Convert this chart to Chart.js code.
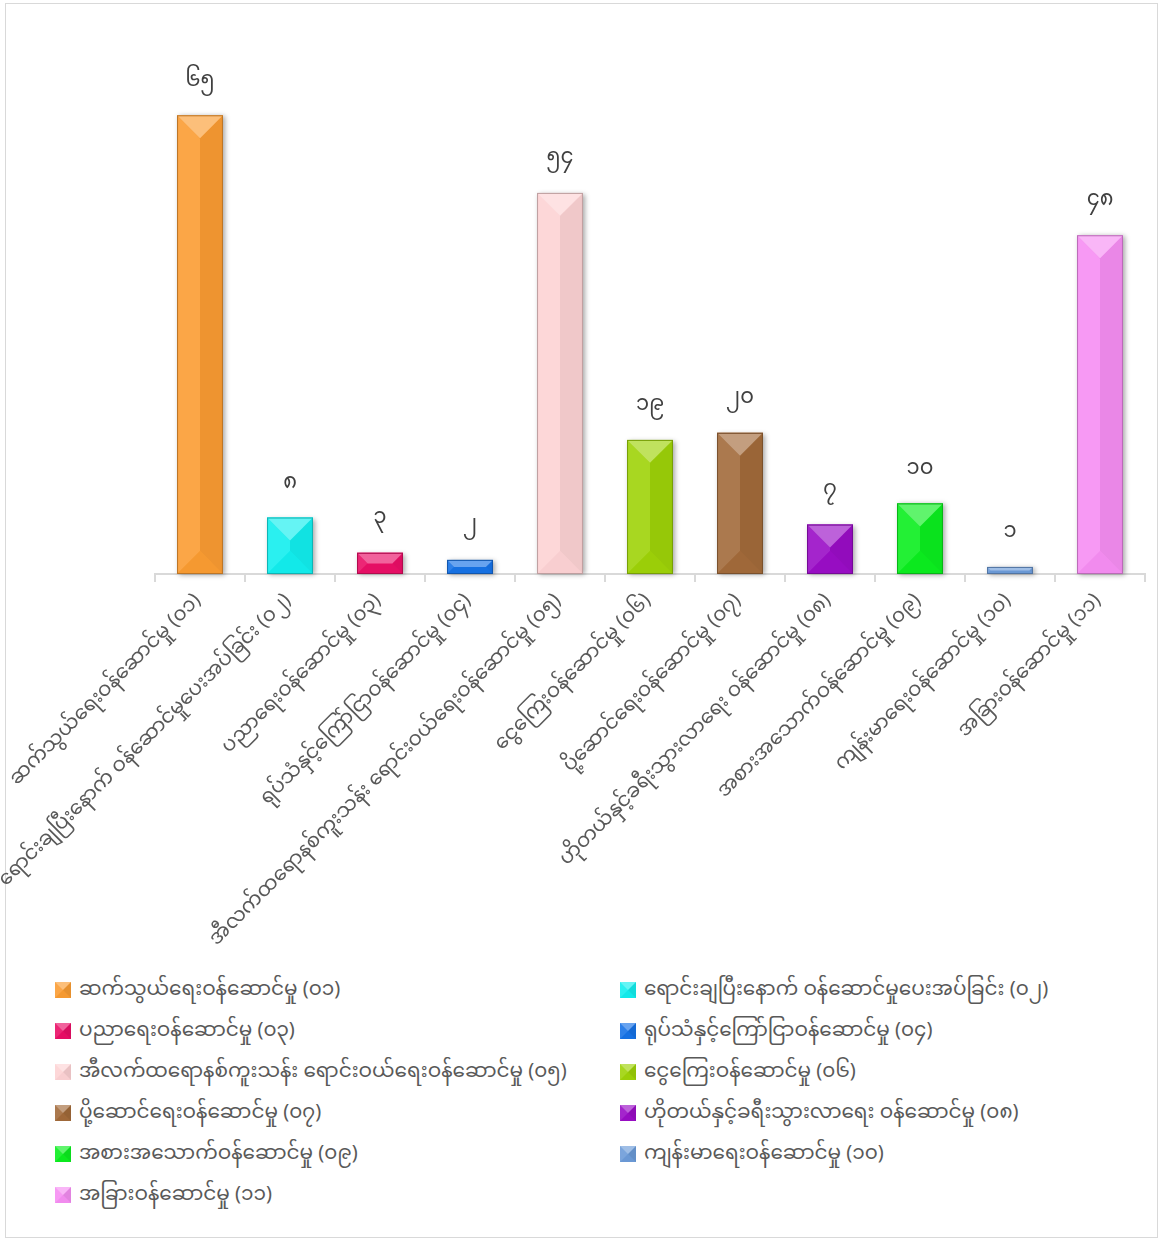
<!DOCTYPE html>
<html>
<head>
<meta charset="utf-8">
<script src="https://cdn.jsdelivr.net/npm/chart.js@4/dist/chart.umd.min.js"></script>
<style>
    body { margin: 0; background: #fff; font-family: 'Noto Sans Myanmar', 'Myanmar Text', 'Padauk', 'Noto Sans', sans-serif; }
    #frame { position: absolute; left: 5px; top: 3px; width: 1151px; height: 1233px; border: 1px solid #d9d9d9; }
    #wrap { position: absolute; left: 0; top: 0; width: 1163px; height: 960px; }
    #legend { position: absolute; left: 0; top: 970px; width: 1163px; }
    .item { position: absolute; height: 30px; display: flex; align-items: center; font-size: 20px; color: #595959; white-space: nowrap; }
    .box { width: 0; height: 0; border-style: solid; border-width: 8px; margin-right: 8px; }
</style>
</head>
<body>
<div id="frame"></div>
<div id="wrap"><canvas id="services-chart"></canvas></div>
<div id="legend"></div>
<script>
var categories = [
    "ဆက်သွယ်ရေးဝန်ဆောင်မှု (၀၁)",
    "ရောင်းချပြီးနောက် ဝန်ဆောင်မှုပေးအပ်ခြင်း (၀၂)",
    "ပညာရေးဝန်ဆောင်မှု (၀၃)",
    "ရုပ်သံနှင့်ကြော်ငြာဝန်ဆောင်မှု (၀၄)",
    "အီလက်ထရောနစ်ကူးသန်း ရောင်းဝယ်ရေးဝန်ဆောင်မှု (၀၅)",
    "ငွေကြေးဝန်ဆောင်မှု (၀၆)",
    "ပို့ဆောင်ရေးဝန်ဆောင်မှု (၀၇)",
    "ဟိုတယ်နှင့်ခရီးသွားလာရေး ဝန်ဆောင်မှု (၀၈)",
    "အစားအသောက်ဝန်ဆောင်မှု (၀၉)",
    "ကျန်းမာရေးဝန်ဆောင်မှု (၁၀)",
    "အခြားဝန်ဆောင်မှု (၁၁)"
];
var counts = [65, 8, 3, 2, 54, 19, 20, 7, 10, 1, 48];
var barColors = ["#FA9C32", "#12EEEE", "#EA0E66", "#1672E6", "#FDD2D4", "#9ED208",
                 "#A26A3A", "#9A0DC6", "#0BEE1F", "#6C9BD8", "#F68EF3"];

var FONT = "'Noto Sans Myanmar', 'Myanmar Text', 'Padauk', 'Noto Sans', sans-serif";

function toMyanmar(n) {
    return String(n).replace(/\d/g, function (d) { return String.fromCharCode(0x1040 + Number(d)); });
}

function shade(hex, t) {
    var r = parseInt(hex.substr(1, 2), 16), g = parseInt(hex.substr(3, 2), 16), b = parseInt(hex.substr(5, 2), 16);
    var target = t > 0 ? 255 : 0, k = Math.abs(t);
    r = Math.round(r + (target - r) * k);
    g = Math.round(g + (target - g) * k);
    b = Math.round(b + (target - b) * k);
    return "rgb(" + r + "," + g + "," + b + ")";
}

// bevelled bars + value labels on top
var bevelPlugin = {
    id: 'bevel',
    afterDatasetsDraw: function (chart) {
        var ctx = chart.ctx;
        var meta = chart.getDatasetMeta(0);
        meta.data.forEach(function (bar, i) {
            var c = barColors[i];
            var l = bar.x - bar.width / 2, r = bar.x + bar.width / 2;
            var t = bar.y, bt = bar.base;
            var h = bt - t, w = r - l;
            var b = Math.min(w / 2, h / 2);

            ctx.save();
            ctx.shadowColor = "rgba(0,0,0,0.35)";
            ctx.shadowBlur = 5;
            ctx.shadowOffsetX = 2;
            ctx.shadowOffsetY = 1;
            ctx.fillStyle = c;
            ctx.fillRect(l, t, w, h);
            ctx.restore();

            function poly(pts, col) {
                ctx.beginPath();
                ctx.moveTo(pts[0][0], pts[0][1]);
                for (var k = 1; k < pts.length; k++) ctx.lineTo(pts[k][0], pts[k][1]);
                ctx.closePath();
                ctx.fillStyle = col;
                ctx.fill();
            }
            ctx.save();
            poly([[l, t], [l + b, t + b], [l + b, bt - b], [l, bt]], shade(c, 0.1));
            poly([[r, t], [r - b, t + b], [r - b, bt - b], [r, bt]], shade(c, -0.05));
            ctx.fillStyle = c;
            ctx.fillRect(l + b, t + b, w - 2 * b, Math.max(h - 2 * b, 0));
            poly([[l, bt], [r, bt], [r - b, bt - b], [l + b, bt - b]], shade(c, -0.02));
            poly([[l, t], [r, t], [r - b, t + b], [l + b, t + b]], shade(c, 0.35));
            ctx.strokeStyle = shade(c, -0.25);
            ctx.lineWidth = 1;
            ctx.strokeRect(l + 0.5, t + 0.5, w - 1, h - 1);

            ctx.fillStyle = "#404040";
            ctx.font = "21px " + FONT;
            ctx.textAlign = "center";
            ctx.textBaseline = "middle";
            ctx.fillText(toMyanmar(counts[i]), bar.x, t - 32);
            ctx.restore();
        });
    }
};

var ctx = document.getElementById('services-chart');
var servicesChart = new Chart(ctx, {
    type: 'bar',
    data: {
        labels: categories,
        datasets: [{
            data: counts,
            backgroundColor: barColors,
            borderWidth: 0,
            barPercentage: 0.68,
            categoryPercentage: 0.75
        }]
    },
    options: {
        responsive: true,
        maintainAspectRatio: false,
        animation: false,
        events: [],
        layout: { padding: { left: 155, right: 18, top: 80, bottom: 0 } },
        plugins: {
            legend: { display: false },
            tooltip: { enabled: false }
        },
        scales: {
            x: {
                afterFit: function (s) {
                    s.height = 386;
                    s.paddingLeft = 0;
                    s.paddingRight = 0;
                },
                border: { color: "#d9d9d9", width: 2 },
                grid: { display: true, drawOnChartArea: false, drawTicks: true, tickLength: 8, color: "#d9d9d9", lineWidth: 2, offset: true },
                ticks: {
                    autoSkip: false,
                    maxRotation: 45,
                    minRotation: 45,
                    padding: 9,
                    color: "#595959",
                    font: { family: FONT, size: 20 }
                }
            },
            y: {
                display: false,
                min: 0,
                max: 70
            }
        }
    },
    plugins: [bevelPlugin]
});

// two-column legend built from the same arrays
var legend = document.getElementById('legend');
categories.forEach(function (name, i) {
    var c = barColors[i];
    var item = document.createElement('div');
    item.className = 'item';
    item.style.left = (i % 2 === 0 ? 55 : 620) + 'px';
    item.style.top = (Math.floor(i / 2) * 41 + 5) + 'px';
    var box = document.createElement('span');
    box.className = 'box';
    box.style.borderColor = shade(c, 0.35) + ' ' + shade(c, -0.08) + ' ' + shade(c, -0.02) + ' ' + shade(c, 0.1);
    item.appendChild(box);
    item.appendChild(document.createTextNode(name));
    legend.appendChild(item);
});
</script>
</body>
</html>
